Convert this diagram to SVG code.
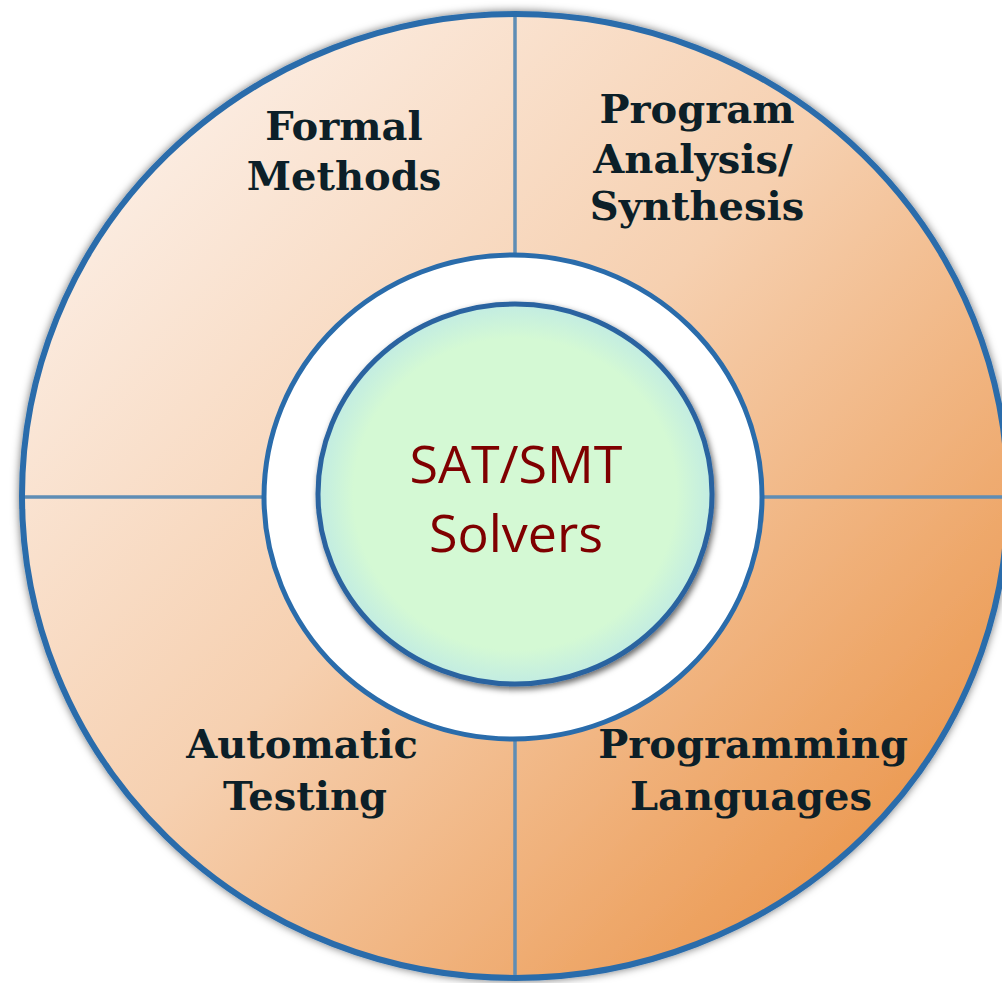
<svg xmlns="http://www.w3.org/2000/svg" width="1002" height="983" viewBox="0 0 1002 983">
  <defs>
    <linearGradient id="orange" x1="0.1" y1="0.1" x2="0.95" y2="0.9">
      <stop offset="0" stop-color="#fcefe6"/>
      <stop offset="0.45" stop-color="#f6d0b0"/>
      <stop offset="1" stop-color="#ea9245"/>
    </linearGradient>
    <radialGradient id="green" cx="0.5" cy="0.5" r="0.5">
      <stop offset="0.82" stop-color="#d4f9d4"/>
      <stop offset="1" stop-color="#c2ece2"/>
    </radialGradient>
    <filter id="shadow" x="-10%" y="-10%" width="120%" height="120%">
      <feDropShadow dx="0" dy="0" stdDeviation="4" flood-color="#000" flood-opacity="0.55"/>
    </filter>
    <filter id="shadow2" x="-10%" y="-10%" width="120%" height="120%">
      <feDropShadow dx="2" dy="3" stdDeviation="3" flood-color="#000" flood-opacity="0.6"/>
    </filter>
  </defs>
  <style>
    .lbl { font-family: "DejaVu Serif", "Liberation Serif", serif; font-weight: bold; font-size: 40px; fill: #0c1f28; text-anchor: middle; }
    .core { font-family: "Open Sans", "Noto Sans", "Liberation Sans", sans-serif; font-size: 52px; fill: #7f0000; text-anchor: middle; }
    .div { stroke: #5e8db5; stroke-width: 3.5; }
  </style>
  <rect width="1002" height="983" fill="#ffffff"/>
  <g id="outer-ring">
    <ellipse cx="515" cy="496" rx="493" ry="482" fill="url(#orange)" stroke="#2a6cab" stroke-width="6" filter="url(#shadow)"/>
  </g>
  <g id="connectors">
    <line class="div" x1="515" y1="17" x2="515" y2="975"/>
    <line class="div" x1="25" y1="497" x2="1006" y2="497"/>
  </g>
  <g id="white-ring">
    <ellipse cx="513" cy="497" rx="249" ry="242" fill="#ffffff" stroke="#2a6cab" stroke-width="5"/>
  </g>
  <g id="core">
    <ellipse cx="515" cy="494" rx="197" ry="190" fill="url(#green)" stroke="#2a64a0" stroke-width="5" filter="url(#shadow2)"/>
    <text class="core" x="516" y="483">SAT/SMT</text>
    <text class="core" x="516" y="552">Solvers</text>
  </g>
  <g id="formal-methods">
    <text class="lbl" x="344" y="140">Formal</text>
    <text class="lbl" x="344" y="190">Methods</text>
  </g>
  <g id="program-analysis">
    <text class="lbl" x="697" y="123">Program</text>
    <text class="lbl" x="693" y="173">Analysis/</text>
    <text class="lbl" x="697" y="220">Synthesis</text>
  </g>
  <g id="automatic-testing">
    <text class="lbl" x="302" y="758">Automatic</text>
    <text class="lbl" x="305" y="810">Testing</text>
  </g>
  <g id="programming-languages">
    <text class="lbl" x="753" y="758">Programming</text>
    <text class="lbl" x="751" y="810">Languages</text>
  </g>
</svg>
